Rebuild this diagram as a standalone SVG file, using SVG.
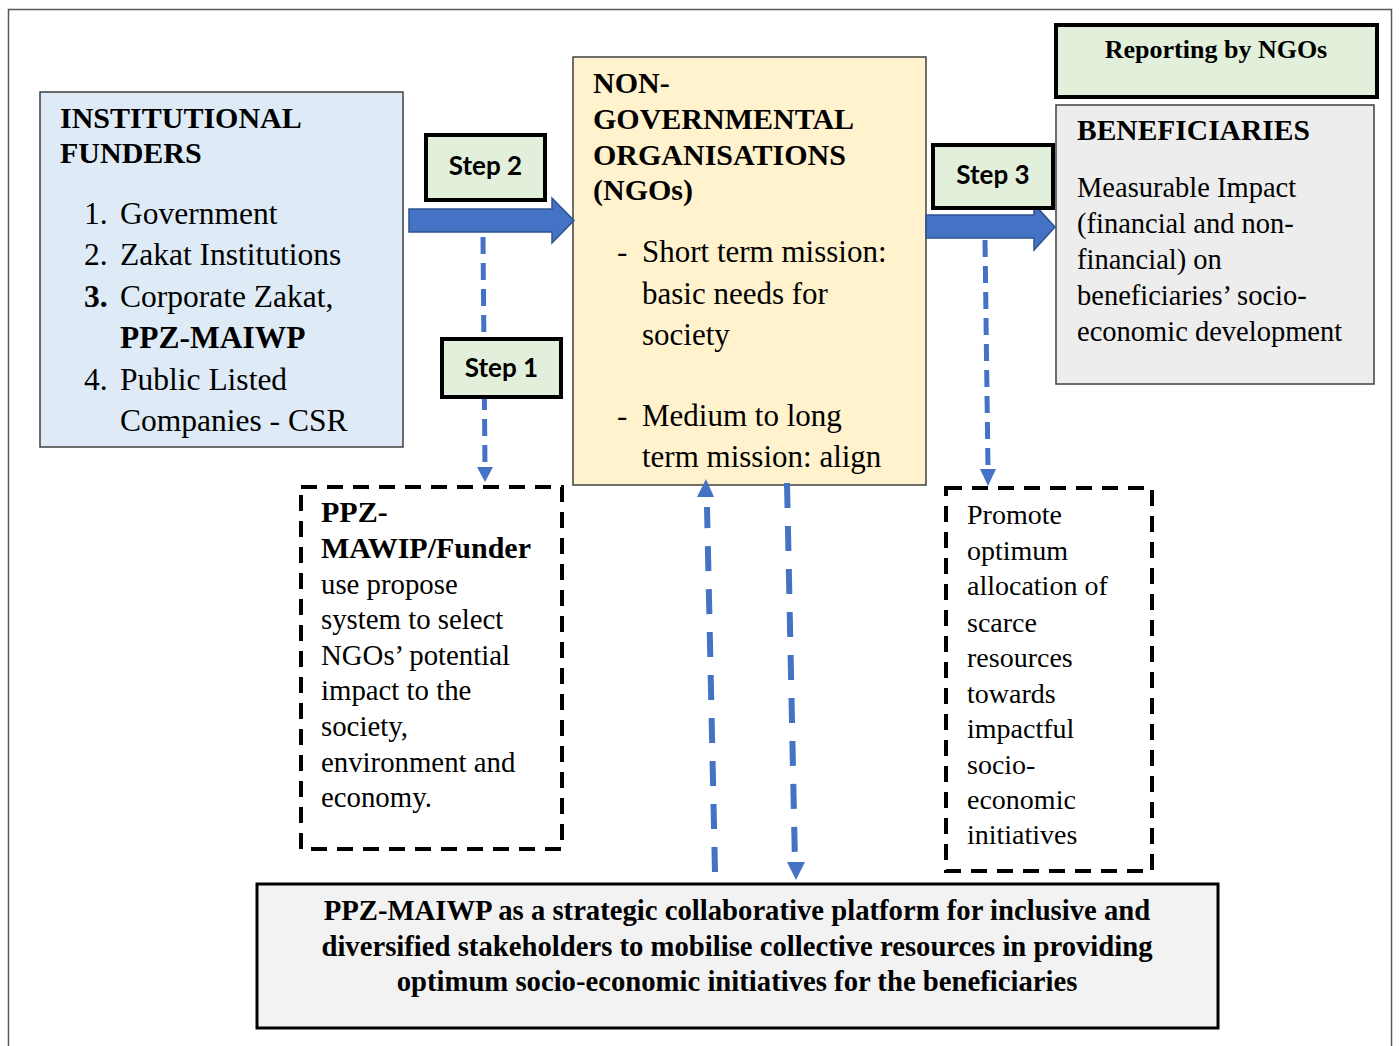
<svg xmlns="http://www.w3.org/2000/svg" width="1399" height="1046" viewBox="0 0 1399 1046">
<defs>
<style>
.serif{font-family:"Liberation Serif","Times New Roman",serif;fill:#000}
.b{font-weight:bold}
.step{font-family:Lato,"Liberation Sans",sans-serif;font-weight:bold;font-size:26px;text-anchor:middle;fill:#000}
.stepbox{fill:#e2efda;stroke:#000;stroke-width:4}
.dash{fill:none;stroke:#4472c4;stroke-width:5;stroke-dasharray:17 9}
.dash2{fill:none;stroke:#4472c4;stroke-width:6;stroke-dasharray:25 18}
.dbox{fill:#fff;stroke:#000;stroke-width:4;stroke-dasharray:16 10}
.bigarrow{fill:#4472c4;stroke:#2f528f;stroke-width:1.5}
.head{fill:#4472c4}
</style>
</defs>
<rect x="0" y="0" width="1399" height="1046" fill="#fff"/>
<rect x="8.5" y="9.5" width="1383" height="1050" fill="none" stroke="#595959" stroke-width="1.5"/>

<g id="funders">
<rect x="40" y="92" width="363" height="355" fill="#deebf7" stroke="#404040" stroke-width="1.5"/>
<text class="serif b" font-size="30" x="60" y="128">INSTITUTIONAL</text>
<text class="serif b" font-size="30" x="60" y="163">FUNDERS</text>
<g class="serif" font-size="31.5">
<text x="84" y="224">1.</text><text x="120" y="224">Government</text>
<text x="84" y="265">2.</text><text x="120" y="265">Zakat Institutions</text>
<text x="84" y="307" font-weight="bold">3.</text><text x="120" y="307">Corporate Zakat,</text>
<text x="120" y="348" font-weight="bold">PPZ-MAIWP</text>
<text x="84" y="390">4.</text><text x="120" y="390">Public Listed</text>
<text x="120" y="431">Companies - CSR</text>
</g>
</g>

<g id="ngos">
<rect x="573" y="57" width="353" height="428" fill="#fff2cc" stroke="#404040" stroke-width="1.5"/>
<g class="serif b" font-size="30">
<text x="593" y="93">NON-</text>
<text x="593" y="129">GOVERNMENTAL</text>
<text x="593" y="165">ORGANISATIONS</text>
<text x="593" y="200">(NGOs)</text>
</g>
<g class="serif" font-size="31">
<text x="617" y="262">-</text><text x="642" y="262">Short term mission:</text>
<text x="642" y="304">basic needs for</text>
<text x="642" y="345">society</text>
<text x="617" y="426">-</text><text x="642" y="426">Medium to long</text>
<text x="642" y="467">term mission: align</text>
</g>
</g>

<g id="reporting">
<rect x="1056" y="25" width="321" height="72" class="stepbox"/>
<text class="serif b" font-size="26" x="1216" y="58" text-anchor="middle">Reporting by NGOs</text>
</g>

<g id="beneficiaries">
<rect x="1056" y="105" width="318" height="279" fill="#ededed" stroke="#404040" stroke-width="1.5"/>
<text class="serif b" font-size="29.5" x="1077" y="140">BENEFICIARIES</text>
<g class="serif" font-size="28.5">
<text x="1077" y="197">Measurable Impact</text>
<text x="1077" y="233">(financial and non-</text>
<text x="1077" y="269">financial) on</text>
<text x="1077" y="305">beneficiaries’ socio-</text>
<text x="1077" y="341">economic development</text>
</g>
</g>

<g id="connectors">
<polygon class="bigarrow" points="409,209 552,209 552,198 574,220.5 552,243 552,232 409,232"/>
<polygon class="bigarrow" points="926,215 1034,215 1034,204 1055,227 1034,250 1034,238 926,238"/>
<path class="dash" d="M483,237 L485,468"/>
<polygon class="head" points="477,467 493,467 485,482"/>
<path class="dash" d="M985,240 L988,470"/>
<polygon class="head" points="980,469 996,469 988,486"/>
<path class="dash2" d="M715,872 L707,507"/>
<polygon class="head" points="697,497 714,497 706,479"/>
<path class="dash2" d="M787,483 L795,864"/>
<polygon class="head" points="787,862 805,862 796,880"/>
</g>

<g id="step2">
<rect x="426" y="135" width="119" height="65" class="stepbox"/>
<text class="step" x="485.5" y="175">Step 2</text>
</g>
<g id="step1">
<rect x="442" y="339" width="119" height="58" class="stepbox"/>
<text class="step" x="501.5" y="377">Step 1</text>
</g>
<g id="step3">
<rect x="933" y="145" width="120" height="63" class="stepbox"/>
<text class="step" x="993" y="184">Step 3</text>
</g>

<g id="selection">
<rect x="301" y="487" width="261" height="362" class="dbox"/>
<g class="serif b" font-size="30">
<text x="321" y="522">PPZ-</text>
<text x="321" y="558">MAWIP/Funder</text>
</g>
<g class="serif" font-size="28.8">
<text x="321" y="594">use propose</text>
<text x="321" y="629">system to select</text>
<text x="321" y="665">NGOs’ potential</text>
<text x="321" y="700">impact to the</text>
<text x="321" y="736">society,</text>
<text x="321" y="772">environment and</text>
<text x="321" y="807">economy.</text>
</g>
</g>

<g id="promote">
<rect x="946" y="488" width="206" height="383" class="dbox"/>
<g class="serif" font-size="28">
<text x="967" y="524">Promote</text>
<text x="967" y="560">optimum</text>
<text x="967" y="595">allocation of</text>
<text x="967" y="632">scarce</text>
<text x="967" y="667">resources</text>
<text x="967" y="703">towards</text>
<text x="967" y="738">impactful</text>
<text x="967" y="774">socio-</text>
<text x="967" y="809">economic</text>
<text x="967" y="844">initiatives</text>
</g>
</g>

<g id="platform">
<rect x="257" y="884" width="961" height="144" fill="#f2f2f2" stroke="#000" stroke-width="3"/>
<g class="serif b" font-size="28.7" text-anchor="middle">
<text x="737" y="920">PPZ-MAIWP as a strategic collaborative platform for inclusive and</text>
<text x="737" y="956">diversified stakeholders to mobilise collective resources in providing</text>
<text x="737" y="991">optimum socio-economic initiatives for the beneficiaries</text>
</g>
</g>
</svg>
